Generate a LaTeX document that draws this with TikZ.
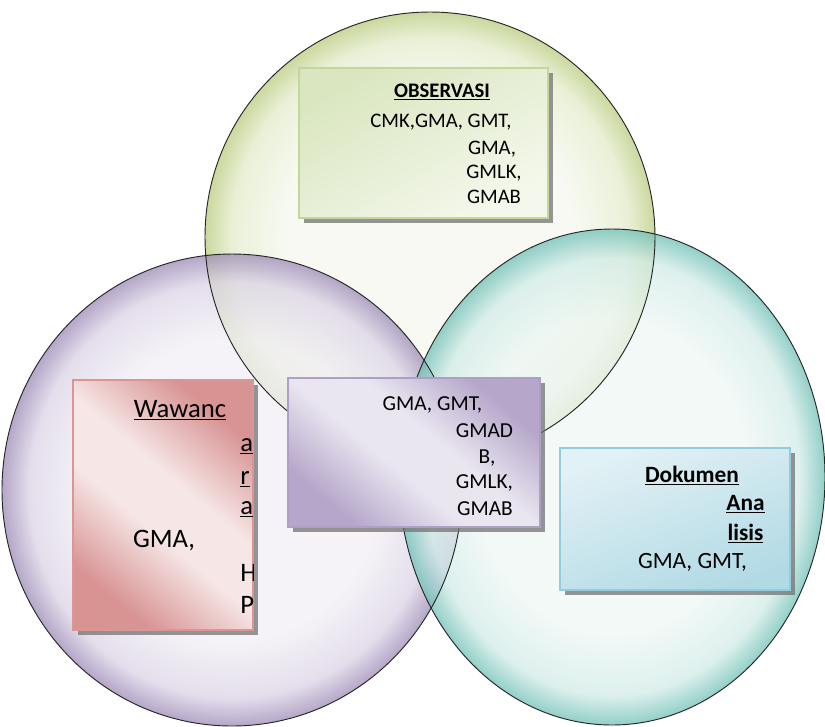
\documentclass[tikz,border=0pt]{standalone}
\usepackage{fontspec}
\setmainfont{Carlito}
\usetikzlibrary{shadows}
% colours of the balls
\definecolor{greenin}{HTML}{F5F8EE}
\definecolor{greenmid}{HTML}{E4ECCB}
\definecolor{greenrim}{HTML}{B9CC7E}
\definecolor{purplein}{HTML}{F2EFF5}
\definecolor{purplemid}{HTML}{DCD4E6}
\definecolor{purplerim}{HTML}{9C8AB6}
\definecolor{tealin}{HTML}{EEF7F5}
\definecolor{tealmid}{HTML}{D2ECE8}
\definecolor{tealrim}{HTML}{6FC0B6}
% colours of the boxes
\definecolor{obsdark}{HTML}{DAE6C0}
\definecolor{obslight}{HTML}{F4F8EC}
\definecolor{obsline}{HTML}{C4D79B}
\definecolor{middark}{HTML}{B5A6CA}
\definecolor{midlight}{HTML}{EAE6F0}
\definecolor{midline}{HTML}{AE9FC6}
\definecolor{wawdark}{HTML}{D89393}
\definecolor{wawlight}{HTML}{F6E6E6}
\definecolor{wawline}{HTML}{D99694}
\definecolor{dokdark}{HTML}{B2DAE5}
\definecolor{doklight}{HTML}{E2F1F5}
\definecolor{dokline}{HTML}{93CDDD}
\pgfdeclareradialshading{greenball}{\pgfpoint{0bp}{0bp}}{color(0bp)=(greenin); color(16bp)=(greenin); color(22bp)=(greenmid); color(25bp)=(greenrim); color(50bp)=(greenrim)}
\pgfdeclareradialshading{purpleball}{\pgfpoint{0bp}{0bp}}{color(0bp)=(purplein); color(16bp)=(purplein); color(22bp)=(purplemid); color(25bp)=(purplerim); color(50bp)=(purplerim)}
\pgfdeclareradialshading{tealball}{\pgfpoint{0bp}{0bp}}{color(0bp)=(tealin); color(16bp)=(tealin); color(22bp)=(tealmid); color(25bp)=(tealrim); color(50bp)=(tealrim)}
\pgfdeclareverticalshading{midshade}{100bp}{color(0bp)=(middark); color(26bp)=(middark); color(44bp)=(midlight); color(56bp)=(midlight); color(74bp)=(middark); color(100bp)=(middark)}
\pgfdeclareverticalshading{wawshade}{100bp}{color(0bp)=(wawdark); color(26bp)=(wawdark); color(44bp)=(wawlight); color(56bp)=(wawlight); color(74bp)=(wawdark); color(100bp)=(wawdark)}
\begin{document}
\begin{tikzpicture}
[x=0.75pt,y=-0.75pt,
  balldecorate/.style={fill opacity=0.75},%
  ballline/.style={draw=black!85,line width=0.7pt},%
  boxdecorate/.style={shape=rectangle,inner sep=0pt,line width=1.2pt,
    drop shadow={shadow xshift=3.5pt,shadow yshift=-3.5pt,fill=black!55,opacity=0.75}},%
  obsbox/.style={boxdecorate,draw=obsline,left color=obsdark,right color=obslight,shading angle=30},%
  midbox/.style={boxdecorate,draw=midline,shade,shading=midshade,shading angle=-40},%
  wawbox/.style={boxdecorate,draw=wawline,shade,shading=wawshade,shading angle=-40},%
  dokbox/.style={boxdecorate,draw=dokline,top color=doklight,bottom color=dokdark,shading angle=20},%
  textdecorate/.style={anchor=base,inner sep=0pt,text=black},%
  obstext/.style={textdecorate,font=\fontsize{15.5}{18}\selectfont},%
  midtext/.style={textdecorate,font=\fontsize{16}{19}\selectfont},%
  wawtext/.style={textdecorate,font=\fontsize{20}{24}\selectfont},%
  doktext/.style={textdecorate,font=\fontsize{17.5}{21}\selectfont}]
\useasboundingbox[fill=white] (0,0) rectangle (825,726);
%%% three balls
% fills
\shade[balldecorate,shading=greenball] (430,237) ellipse [x radius=168.75pt,y radius=168.75pt];
\shade[balldecorate,shading=purpleball] (232,490) ellipse [x radius=172.5pt,y radius=177pt];
\shade[balldecorate,shading=tealball] (612,477) ellipse [x radius=159.75pt,y radius=186pt];
% outlines
\draw[ballline] (430,237) ellipse [x radius=168.75pt,y radius=168.75pt];
\draw[ballline] (232,490) ellipse [x radius=172.5pt,y radius=177pt];
\draw[ballline] (612,477) ellipse [x radius=159.75pt,y radius=186pt];
%
%%% boxes
\node (obs) at (423.5,143) [obsbox,minimum width=186.75pt,minimum height=112.5pt] {};
\node (mid) at (414,452.5) [midbox,minimum width=189pt,minimum height=111.75pt] {};
\node (waw) at (163,505) [wawbox,minimum width=135pt,minimum height=187.5pt] {};
\node (dok) at (675,519) [dokbox,minimum width=172.5pt,minimum height=106.5pt] {};
%
%%% texts
% observasi
\node (obs1) at (442,97) [obstext] {\textbf{\underline{OBSERVASI}}};
\node (obs2) at (441,127) [obstext] {CMK,GMA, GMT,};
\node (obs3) at (492,154) [obstext] {GMA,};
\node (obs4) at (494,178) [obstext] {GMLK,};
\node (obs5) at (494,203) [obstext] {GMAB};
% middle
\node (mid1) at (432.5,410) [midtext] {GMA, GMT,};
\node (mid2) at (484.5,437) [midtext] {GMAD};
\node (mid3) at (487,463) [midtext] {B,};
\node (mid4) at (484.5,488) [midtext] {GMLK,};
\node (mid5) at (485,515) [midtext] {GMAB};
% wawancara
\begin{scope}
\clip (waw.south west) rectangle (waw.north east);
\node (waw1) at (180,417) [wawtext] {\underline{Wawanc}};
\node (waw2) at (240,451) [wawtext,anchor=base west] {\underline{a}};
\node (waw3) at (240,484) [wawtext,anchor=base west] {\underline{r}};
\node (waw4) at (240,514) [wawtext,anchor=base west] {\underline{a}};
\node (waw5) at (164,547) [wawtext] {GMA,};
\node (waw6) at (240,581) [wawtext,anchor=base west] {H};
\node (waw7) at (240,613) [wawtext,anchor=base west] {P};
\end{scope}
% dokumen
\node (dok1) at (692,482) [doktext] {\textbf{\underline{Dokumen}}};
\node (dok2) at (745.5,510) [doktext] {\textbf{\underline{Ana}}};
\node (dok3) at (745.5,540) [doktext] {\textbf{\underline{lisis}}};
\node (dok4) at (692.5,568) [doktext] {GMA, GMT,};
\end{tikzpicture}
\end{document}
